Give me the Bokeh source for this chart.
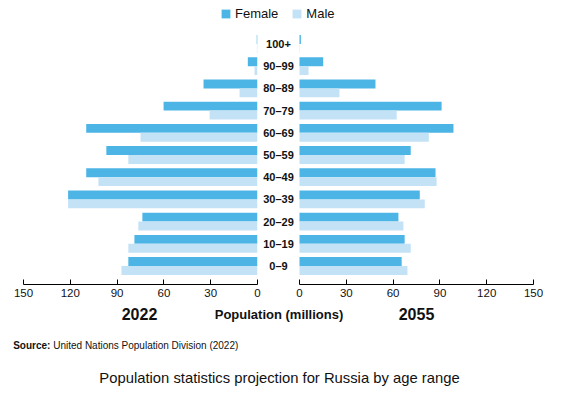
from bokeh.plotting import figure
from bokeh.models import (Range1d, FactorRange, LabelSet, Label, Legend, LegendItem,
                          ColumnDataSource)
from bokeh.core.properties import value
from bokeh.layouts import column, row
from bokeh.transform import dodge
from bokeh.embed import file_html
from bokeh.resources import INLINE

# ---------------- data ----------------
ages = ["0\u20139", "10\u201319", "20\u201329", "30\u201339", "40\u201349", "50\u201359",
        "60\u201369", "70\u201379", "80\u201389", "90\u201399", "100+"]
female_2022 = [82.8, 78.9, 73.8, 121.4, 109.8, 96.9, 109.8, 60.2, 34.6, 6.2, 0.5]
male_2022 = [87.2, 82.8, 76.4, 121.4, 102.0, 82.8, 75.0, 30.7, 11.5, 1.9, 0.4]
female_2055 = [65.5, 67.4, 63.4, 77.1, 87.2, 71.3, 98.7, 91.1, 48.7, 15.2, 0.9]
male_2055 = [69.2, 71.3, 66.6, 80.3, 87.9, 67.4, 82.9, 62.3, 25.6, 5.8, 0.2]
x_ticks = [0, 30, 60, 90, 120, 150]
series_names = ["Female", "Male"]
year_left = "2022"
year_right = "2055"
x_title = "Population (millions)"
source_bold = "Source:"
source_text = "United Nations Population Division (2022)"
title_text = "Population statistics projection for Russia by age range"

FEMALE = "#4cb5e6"
MALE = "#c4e2f6"
FONT = "Liberation Sans"
INK = "#111111"

src = ColumnDataSource(dict(age=ages, f22=female_2022, m22=male_2022,
                            f55=female_2055, m55=male_2055))

yr = FactorRange(factors=ages, range_padding=0.0606, range_padding_units="percent")


def style_axis(p):
    ax = p.xaxis[0]
    ax.ticker = x_ticks
    ax.bounds = (0, 150)
    ax.major_tick_in = 5
    ax.major_tick_out = 0
    ax.minor_tick_in = 0
    ax.minor_tick_out = 0
    ax.major_label_standoff = 4
    ax.axis_line_color = "black"
    ax.major_tick_line_color = "black"
    ax.major_label_text_font = FONT
    ax.major_label_text_font_size = "11.5px"
    ax.major_label_text_color = INK
    p.xgrid.visible = False
    p.ygrid.visible = False


common = dict(height=281, y_range=yr, output_backend="svg", toolbar_location=None,
              y_axis_location=None, min_border_top=0, min_border_bottom=22,
              outline_line_color=None, background_fill_color="white",
              border_fill_color="white")

# left pyramid half (2022): frame 23..257 px
left = figure(width=261, x_range=Range1d(150, 0), min_border_left=23,
              min_border_right=4, **common)
left.hbar(y=dodge("age", 0.2, range=yr), left=0, right="f22", height=0.4,
          source=src, fill_color=FEMALE, line_color=None)
left.hbar(y=dodge("age", -0.2, range=yr), left=0, right="m22", height=0.4,
          source=src, fill_color=MALE, line_color=None)
style_axis(left)

# right pyramid half (2055): frame 261..533 px, zero at 299 px
right = figure(width=302, x_range=Range1d(-24.36, 150), min_border_left=0,
               min_border_right=30, **common)
right.hbar(y=dodge("age", 0.2, range=yr), left=0, right="f55", height=0.4,
           source=src, fill_color=FEMALE, line_color=None)
right.hbar(y=dodge("age", -0.2, range=yr), left=0, right="m55", height=0.4,
           source=src, fill_color=MALE, line_color=None)
style_axis(right)
right.add_layout(LabelSet(x=0, y="age", text="age", source=src, x_offset=-21,
                          text_align="center", text_baseline="middle",
                          text_font=value(FONT), text_font_size=value("11px"),
                          text_font_style="bold", text_color=INK))

# ---------------- legend strip ----------------
# zero-area glyphs: only their colours feed the legend swatches
top = figure(width=563, height=25, x_range=Range1d(0, 150),
             y_range=FactorRange(factors=ages),
             output_backend="svg", toolbar_location=None, x_axis_location=None,
             y_axis_location=None, min_border=0, outline_line_color=None)
top.xgrid.visible = False
top.ygrid.visible = False
rf = top.hbar(y="age", left="f22", right="f22", height=0, source=src,
              fill_color=FEMALE, line_color=None)
rm = top.hbar(y="age", left="m22", right="m22", height=0, source=src,
              fill_color=MALE, line_color=None)
leg = Legend(items=[LegendItem(label=series_names[0], renderers=[rf]),
                    LegendItem(label=series_names[1], renderers=[rm])],
             orientation="horizontal", location=(220, 4),
             glyph_width=11, glyph_height=11, label_height=11, label_width=10,
             label_standoff=4, spacing=13, padding=0, margin=0,
             border_line_alpha=0, background_fill_alpha=0,
             label_text_font=FONT, label_text_font_size="13px",
             label_text_color=INK)
top.add_layout(leg)

# ---------------- bottom texts ----------------
bottom = figure(width=563, height=90, x_range=Range1d(0, 563), y_range=Range1d(0, 90),
                output_backend="svg", toolbar_location=None, x_axis_location=None,
                y_axis_location=None, min_border=0, outline_line_color=None)
bottom.xgrid.visible = False
bottom.ygrid.visible = False
lab = dict(text_font=FONT, text_color=INK, text_baseline="middle")
bottom.add_layout(Label(x=139, y=83, text=year_left, text_align="center",
                        text_font_size="16px", text_font_style="bold", **lab))
bottom.add_layout(Label(x=416, y=83, text=year_right, text_align="center",
                        text_font_size="16px", text_font_style="bold", **lab))
bottom.add_layout(Label(x=278.5, y=82, text=x_title, text_align="center",
                        text_font_size="13px", text_font_style="bold", **lab))
bottom.add_layout(Label(x=12.7, y=51, text=source_bold, text_align="left",
                        text_font_size="10px", text_font_style="bold", **lab))
bottom.add_layout(Label(x=52.7, y=51, text=source_text, text_align="left",
                        text_font_size="10px", **lab))
bottom.add_layout(Label(x=279, y=19, text=title_text, text_align="center",
                        text_font_size="14.8px", **lab))

layout = column(top, row(left, right), bottom)

open("out.html", "w").write(file_html(layout, INLINE))
